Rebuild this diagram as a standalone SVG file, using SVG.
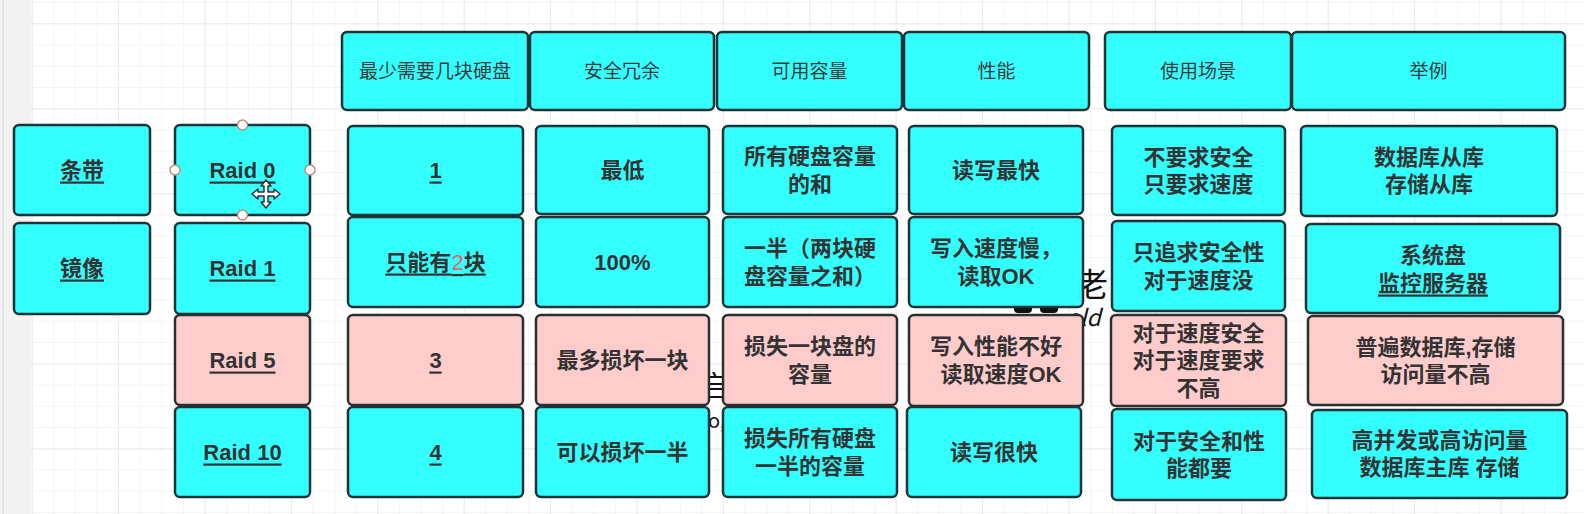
<svg xmlns="http://www.w3.org/2000/svg" width="1584" height="514" viewBox="0 0 1584 514">
<style>
.c{fill:#33ffff;stroke:#1e3336;stroke-width:2.5}
.p{fill:#ffcccc;stroke:#2a3030;stroke-width:2.5}
.h{font-family:"Liberation Sans","Noto Sans CJK SC",sans-serif;font-size:19px;fill:#3a3a3a;text-anchor:middle;dominant-baseline:central}
.t{font-family:"Liberation Sans","Noto Sans CJK SC",sans-serif;font-size:22px;font-weight:bold;fill:#333;text-anchor:middle;dominant-baseline:central}
.u{text-decoration:underline}
.wm{font-family:"Noto Sans CJK SC",sans-serif;fill:#111}
</style>
<defs>
<pattern id="minor" x="31.7" y="23.3" width="21.6" height="21.25" patternUnits="userSpaceOnUse">
<path d="M0,0 H21.6 M0,0 V21.25" fill="none" stroke="#ececec" stroke-width="1"/>
</pattern>
<pattern id="major" x="31.7" y="23.3" width="86.4" height="85" patternUnits="userSpaceOnUse">
<path d="M0,0 H86.4 M0,0 V85" fill="none" stroke="#dedede" stroke-width="1"/>
</pattern>
</defs>
<rect x="0" y="0" width="1584" height="514" fill="#ffffff"/>
<rect x="31" y="0" width="1553" height="514" fill="url(#minor)"/>
<rect x="31" y="0" width="1553" height="514" fill="url(#major)"/>
<rect x="0" y="0" width="31" height="514" fill="#f2f2f2"/>
<line x1="3" y1="0" x2="3" y2="514" stroke="#d6d6d6" stroke-width="1"/>

<g id="watermark">
<text class="wm" x="1092" y="296" font-size="32" text-anchor="middle">老</text>
<text class="wm" x="1066" y="326" font-size="23" font-style="italic" font-family="Liberation Sans,sans-serif">old</text>
<rect x="1014" y="304" width="18" height="9" rx="4" fill="#111"/>
<rect x="1040" y="304" width="18" height="9" rx="4" fill="#111"/>
<text class="wm" x="714" y="397" font-size="30" text-anchor="middle">启</text>
<text class="wm" x="708" y="428" font-size="20" font-family="Liberation Sans,sans-serif">o,</text>
</g>

<g id="connectors"></g>

<g id="h1"><rect class="c" x="342" y="32" width="186" height="78" rx="5"/><text class="h" x="435" y="71">最少需要几块硬盘</text></g>
<g id="h2"><rect class="c" x="530" y="32" width="184" height="78" rx="5"/><text class="h" x="622" y="71">安全冗余</text></g>
<g id="h3"><rect class="c" x="717" y="32" width="185" height="78" rx="5"/><text class="h" x="809.5" y="71">可用容量</text></g>
<g id="h4"><rect class="c" x="904" y="32" width="185" height="78" rx="5"/><text class="h" x="996.5" y="71">性能</text></g>
<g id="h5"><rect class="c" x="1105" y="32" width="186" height="78" rx="5"/><text class="h" x="1198" y="71">使用场景</text></g>
<g id="h6"><rect class="c" x="1292" y="32" width="273" height="78" rx="5"/><text class="h" x="1428.5" y="71">举例</text></g>

<g id="tiaodai"><rect class="c" x="14" y="125" width="136" height="90" rx="5"/><text class="t u" x="82" y="170">条带</text></g>
<g id="jingxiang"><rect class="c" x="14" y="223" width="136" height="91" rx="5"/><text class="t u" x="82" y="268">镜像</text></g>

<g id="raid0"><rect class="c" x="175" y="125" width="135" height="90" rx="5"/><text class="t u" x="242.5" y="170">Raid 0</text></g>
<g id="raid1"><rect class="c" x="175" y="223" width="135" height="91" rx="5"/><text class="t u" x="242.5" y="268">Raid 1</text></g>
<g id="raid5"><rect class="p" x="175" y="315" width="135" height="90" rx="5"/><text class="t u" x="242.5" y="360">Raid 5</text></g>
<g id="raid10"><rect class="c" x="175" y="407" width="135" height="90" rx="5"/><text class="t u" x="242.5" y="452">Raid 10</text></g>

<g id="min1"><rect class="c" x="348" y="126" width="175" height="89" rx="5"/><text class="t u" x="435.5" y="170">1</text></g>
<g id="min2"><rect class="c" x="348" y="217" width="175" height="90" rx="5"/><text class="t u" x="435.5" y="262">只能有<tspan fill="#e06666" font-weight="normal">2</tspan>块</text></g>
<g id="min3"><rect class="p" x="348" y="315" width="175" height="90" rx="5"/><text class="t u" x="435.5" y="360">3</text></g>
<g id="min4"><rect class="c" x="348" y="407" width="175" height="90" rx="5"/><text class="t u" x="435.5" y="452">4</text></g>

<g id="sec1"><rect class="c" x="536" y="126" width="173" height="88" rx="5"/><text class="t" x="622.5" y="170">最低</text></g>
<g id="sec2"><rect class="c" x="536" y="217" width="173" height="90" rx="5"/><text class="t" x="622.5" y="262">100%</text></g>
<g id="sec3"><rect class="p" x="536" y="315" width="173" height="90" rx="5"/><text class="t" x="622.5" y="360">最多损坏一块</text></g>
<g id="sec4"><rect class="c" x="536" y="407" width="173" height="90" rx="5"/><text class="t" x="622.5" y="452">可以损坏一半</text></g>

<g id="cap1"><rect class="c" x="723" y="126" width="174" height="88" rx="5"/><text class="t" x="810" y="156.5">所有硬盘容量</text><text class="t" x="810" y="184">的和</text></g>
<g id="cap2"><rect class="c" x="723" y="217" width="174" height="90" rx="5"/><text class="t" x="810" y="248.5">一半（两块硬</text><text class="t" x="810" y="276">盘容量之和）</text></g>
<g id="cap3"><rect class="p" x="723" y="315" width="174" height="90" rx="5"/><text class="t" x="810" y="346.5">损失一块盘的</text><text class="t" x="810" y="374">容量</text></g>
<g id="cap4"><rect class="c" x="723" y="407" width="174" height="90" rx="5"/><text class="t" x="810" y="438.5">损失所有硬盘</text><text class="t" x="810" y="466">一半的容量</text></g>

<g id="perf1"><rect class="c" x="909" y="126" width="174" height="88" rx="5"/><text class="t" x="996" y="170">读写最快</text></g>
<g id="perf2"><rect class="c" x="909" y="217" width="174" height="90" rx="5"/><text class="t" x="996" y="248.5">写入速度慢，</text><text class="t" x="996" y="276">读取OK</text></g>
<g id="perf3"><rect class="p" x="909" y="315" width="174" height="91" rx="5"/><text class="t" x="996" y="346.5">写入性能不好</text><text class="t" x="1001" y="374">读取速度OK</text></g>
<g id="perf4"><rect class="c" x="907" y="407" width="174" height="90" rx="5"/><text class="t" x="994" y="452">读写很快</text></g>

<g id="use1"><rect class="c" x="1112" y="126" width="173" height="89" rx="5"/><text class="t" x="1198.5" y="157">不要求安全</text><text class="t" x="1198.5" y="184.5">只要求速度</text></g>
<g id="use2"><rect class="c" x="1112" y="221" width="173" height="90" rx="5"/><text class="t" x="1198.5" y="252.5">只追求安全性</text><text class="t" x="1198.5" y="280">对于速度没</text></g>
<g id="use3"><rect class="p" x="1111" y="315" width="175" height="91" rx="5"/><text class="t" x="1198.5" y="333">对于速度安全</text><text class="t" x="1198.5" y="360.5">对于速度要求</text><text class="t" x="1198.5" y="388">不高</text></g>
<g id="use4"><rect class="c" x="1112" y="409" width="174" height="91" rx="5"/><text class="t" x="1199" y="441">对于安全和性</text><text class="t" x="1199" y="468.5">能都要</text></g>

<g id="ex1"><rect class="c" x="1301" y="126" width="256" height="90" rx="5"/><text class="t" x="1429" y="157">数据库从库</text><text class="t" x="1429" y="184.5">存储从库</text></g>
<g id="ex2"><rect class="c" x="1306" y="224" width="254" height="89" rx="5"/><text class="t" x="1433" y="255">系统盘</text><text class="t u" x="1433" y="283">监控服务器</text></g>
<g id="ex3"><rect class="p" x="1308" y="316" width="255" height="89" rx="5"/><text class="t" x="1435.5" y="347">普遍数据库,存储</text><text class="t" x="1435.5" y="374.5">访问量不高</text></g>
<g id="ex4"><rect class="c" x="1312" y="410" width="255" height="88" rx="5"/><text class="t" x="1439.5" y="440">高并发或高访问量</text><text class="t" x="1439.5" y="467.5">数据库主库 存储</text></g>

<g id="selection">
<circle cx="242.5" cy="125" r="5" fill="#fff" stroke="#c08a78" stroke-width="1.5"/>
<circle cx="242.5" cy="215" r="5" fill="#fff" stroke="#c08a78" stroke-width="1.5"/>
<circle cx="175" cy="170" r="5" fill="#fff" stroke="#c08a78" stroke-width="1.5"/>
<circle cx="310" cy="170" r="5" fill="#fff" stroke="#c08a78" stroke-width="1.5"/>
<path transform="translate(266,194)" d="M0,-14 L5,-8 L2,-8 L2,-2 L8,-2 L8,-5 L14,0 L8,5 L8,2 L2,2 L2,8 L5,8 L0,14 L-5,8 L-2,8 L-2,2 L-8,2 L-8,5 L-14,0 L-8,-5 L-8,-2 L-2,-2 L-2,-8 L-5,-8 Z" fill="#fff" stroke="#333" stroke-width="1.5" stroke-linejoin="round"/>
</g>
</svg>
